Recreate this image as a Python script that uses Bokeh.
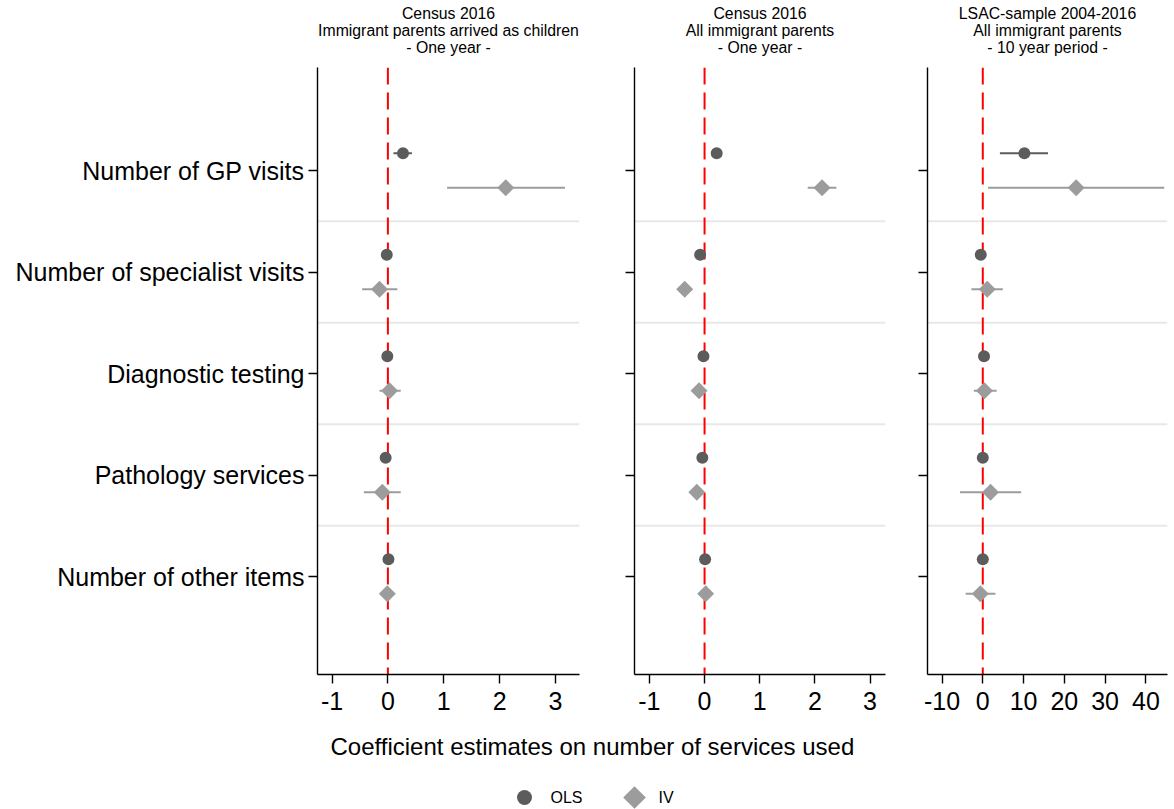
import math
from bokeh.plotting import figure
from bokeh.layouts import row, column
from bokeh.models import Range1d, FixedTicker, Span
from bokeh.embed import file_html
from bokeh.resources import INLINE
from bokeh.core.properties import value

# ---------------- data ----------------
categories = ["Number of GP visits", "Number of specialist visits",
              "Diagnostic testing", "Pathology services", "Number of other items"]

titles = [
    ["Census 2016", "Immigrant parents arrived as children", "- One year -"],
    ["Census 2016", "All immigrant parents", "- One year -"],
    ["LSAC-sample 2004-2016", "All immigrant parents", "- 10 year period -"],
]

# Panel 1: Census 2016, immigrant parents arrived as children
ols1 = [0.27, -0.02, -0.01, -0.04, 0.01]
ols1_lo = [0.10, -0.07, -0.06, -0.09, -0.04]
ols1_hi = [0.43, 0.03, 0.04, 0.01, 0.06]
iv1 = [2.11, -0.15, 0.03, -0.10, -0.01]
iv1_lo = [1.06, -0.46, -0.15, -0.43, -0.08]
iv1_hi = [3.17, 0.17, 0.23, 0.23, 0.06]

# Panel 2: Census 2016, all immigrant parents
ols2 = [0.22, -0.08, -0.02, -0.04, 0.01]
ols2_lo = [0.18, -0.12, -0.06, -0.08, -0.03]
ols2_hi = [0.26, -0.04, 0.02, 0.00, 0.05]
iv2 = [2.13, -0.36, -0.10, -0.14, 0.02]
iv2_lo = [1.87, -0.40, -0.14, -0.18, -0.02]
iv2_hi = [2.39, -0.32, -0.06, -0.10, 0.06]

# Panel 3: LSAC sample 2004-2016, all immigrant parents
ols3 = [10.2, -0.5, 0.3, 0.0, 0.0]
ols3_lo = [4.2, -1.3, -0.4, -1.0, -0.6]
ols3_hi = [16.0, 0.3, 1.0, 1.0, 0.6]
iv3 = [22.9, 1.1, 0.4, 1.9, -0.6]
iv3_lo = [1.3, -2.8, -2.2, -5.6, -4.2]
iv3_hi = [44.5, 4.9, 3.4, 9.4, 3.1]

ticks12 = [-1, 0, 1, 2, 3]
ticks3 = [-10, 0, 10, 20, 30, 40]

xlabel = "Coefficient estimates on number of services used"
legend_labels = ["OLS", "IV"]

# ---------------- style / layout ----------------
FONT = "Liberation Sans"
OLS_COLOR = "#5c5c5c"
IV_COLOR = "#9c9c9c"
SEP_COLOR = "#e8e8e8"
FRAME_H = 607
TOP = 67
BOTTOM = 56

# (left border, frame width, right border) of each panel
geom = [(317, 262, 21), (34, 251, 20), (22, 240, 5)]
BW = sum(a + b + c for a, b, c in geom)

n = len(categories)
pos = [n - i for i in range(n)]          # 5 .. 1 (top to bottom)
y_ols = [p_ + 0.17 for p_ in pos]
y_iv = [p_ - 0.17 for p_ in pos]


def make_panel(ols, ols_lo, ols_hi, iv, iv_lo, iv_hi, xr, ticks,
               show_labels, g):
    bl, fw, br = g
    p = figure(frame_width=fw, frame_height=FRAME_H, title=None,
               x_range=Range1d(*xr), y_range=Range1d(0.035, 6.015),
               output_backend="svg", toolbar_location=None,
               min_border_left=bl, min_border_right=br,
               min_border_top=0, min_border_bottom=BOTTOM)
    p.outline_line_color = None
    p.xgrid.visible = False
    p.ygrid.visible = False
    p.background_fill_color = "white"
    p.border_fill_color = "white"

    for ax in (p.xaxis[0], p.yaxis[0]):
        ax.axis_line_color = "black"
        ax.axis_line_width = 1.4
        ax.major_tick_line_color = "black"
        ax.major_tick_line_width = 1.4
        ax.major_tick_in = 0
        ax.major_tick_out = 9
        ax.minor_tick_line_color = None
        ax.major_label_text_font = FONT
        ax.major_label_text_color = "black"

    p.xaxis.ticker = FixedTicker(ticks=ticks)
    p.xaxis.major_label_overrides = {t: str(t) for t in ticks}
    p.xaxis.major_label_text_font_size = "25px"
    p.xaxis.major_label_standoff = 8

    p.yaxis.ticker = FixedTicker(ticks=pos)
    p.yaxis.major_label_text_font_size = "25px"
    if show_labels:
        p.yaxis.major_label_overrides = {pv: c for pv, c in zip(pos, categories)}
        p.yaxis.major_label_standoff = 4
    else:
        p.yaxis.major_label_overrides = {pv: "" for pv in pos}
        p.yaxis.major_label_standoff = 0

    for k in range(1, n):
        p.add_layout(Span(location=k + 0.5, dimension="width",
                          line_color=SEP_COLOR, line_width=2, level="underlay"))
    p.add_layout(Span(location=0, dimension="height", line_color="red",
                      line_width=2, line_dash="17 8", level="underlay"))

    p.segment(x0=ols_lo, y0=y_ols, x1=ols_hi, y1=y_ols,
              line_color=OLS_COLOR, line_width=2)
    p.scatter(x=ols, y=y_ols, marker="circle", size=12,
              fill_color=OLS_COLOR, line_color=None)
    p.segment(x0=iv_lo, y0=y_iv, x1=iv_hi, y1=y_iv,
              line_color=IV_COLOR, line_width=2)
    p.scatter(x=iv, y=y_iv, marker="square", angle=math.pi / 4, size=12,
              fill_color=IV_COLOR, line_color=None)
    return p


p1 = make_panel(ols1, ols1_lo, ols1_hi, iv1, iv1_lo, iv1_hi,
                (-1.26, 3.43), ticks12, True, geom[0])
p2 = make_panel(ols2, ols2_lo, ols2_hi, iv2, iv2_lo, iv2_hi,
                (-1.27, 3.28), ticks12, False, geom[1])
p3 = make_panel(ols3, ols3_lo, ols3_hi, iv3, iv3_lo, iv3_hi,
                (-13.56, 45.3), ticks3, False, geom[2])


def strip(h):
    s = figure(width=BW, height=h, x_range=Range1d(0, BW), y_range=Range1d(h, 0),
               output_backend="svg", toolbar_location=None, title=None,
               x_axis_location=None, y_axis_location=None, min_border=0)
    s.outline_line_color = None
    s.xgrid.visible = False
    s.ygrid.visible = False
    return s


# top strip: three-line panel titles, centred over each frame
pt = strip(TOP)
left = 0
line_y = [13, 30, 47]
for (bl, fw, br), tl in zip(geom, titles):
    cx = left + bl + fw / 2
    pt.text(x=[cx] * len(tl), y=line_y, text=tl, text_font=value(FONT),
            text_font_size="15.8px", text_baseline="middle", text_align="center",
            text_color="black")
    left += bl + fw + br

# bottom strip: x-axis title and legend
y0 = TOP + FRAME_H + BOTTOM
BH = 809 - y0
pb = strip(BH)
pb.text(x=[330], y=[746 - y0], text=[xlabel], text_font=value(FONT),
        text_font_size="24px", text_baseline="middle", text_align="left",
        text_color="black")
y_leg = 797 - y0
pb.scatter(x=[524], y=[y_leg], marker="circle", size=15,
           fill_color=OLS_COLOR, line_color=None)
pb.scatter(x=[634], y=[y_leg], marker="square", angle=math.pi / 4, size=16,
           fill_color=IV_COLOR, line_color=None)
pb.text(x=[550, 658], y=[y_leg, y_leg], text=legend_labels, text_font=value(FONT),
        text_font_size="16px", text_baseline="middle", text_align="left",
        text_color="black")

layout = column(pt, row(p1, p2, p3), pb)

open("out.html", "w").write(file_html(layout, INLINE))
